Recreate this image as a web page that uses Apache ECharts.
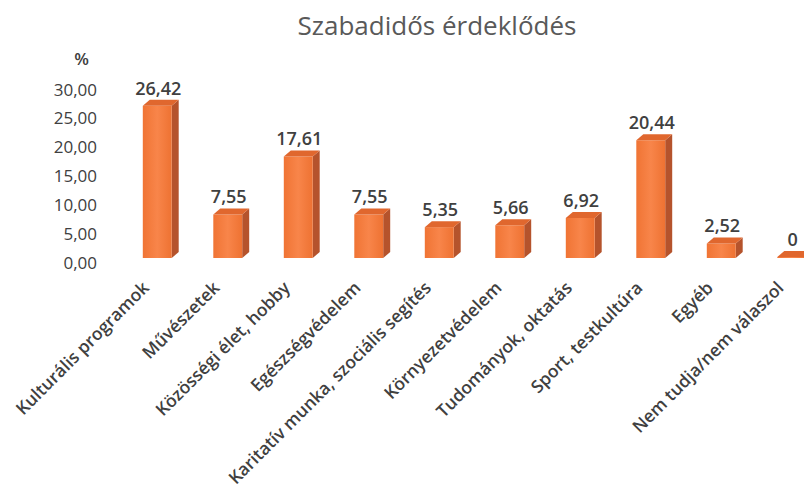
<!DOCTYPE html>
<html>
<head>
<meta charset="utf-8">
<script src="https://cdn.jsdelivr.net/npm/echarts@6/dist/echarts.min.js"></script>
<style>
  html, body { margin: 0; padding: 0; background: #fff; }
  #main { width: 804px; height: 491px; }
</style>
</head>
<body>
<div id="main"></div>
<script>
var categories = [
    'Kulturális programok',
    'Művészetek',
    'Közösségi élet, hobby',
    'Egészségvédelem',
    'Karitatív munka, szociális segítés',
    'Környezetvédelem',
    'Tudományok, oktatás',
    'Sport, testkultúra',
    'Egyéb',
    'Nem tudja/nem válaszol'
];
var values = [26.42, 7.55, 17.61, 7.55, 5.35, 5.66, 6.92, 20.44, 2.52, 0];
var valueLabels = ['26,42', '7,55', '17,61', '7,55', '5,35', '5,66', '6,92', '20,44', '2,52', '0'];
var yTicks = [0, 5, 10, 15, 20, 25, 30];

var FONT = '"Open Sans", sans-serif';
var TXT = '#404040';

var myChart = echarts.init(document.getElementById('main'), null, { renderer: 'svg' });

// fake 3d bar: front + side + top
function renderBar(params, api) {
    var i = api.value(0);
    var v = api.value(1);
    var top = api.coord([i, v]);
    var base = api.coord([i, 0]);
    var w = api.size([1, 0])[0] * 0.41;
    var dx = 7, dy = 6, lift = 4;
    var x0 = top[0] - w / 2, x1 = top[0] + w / 2;
    var yT = top[1] - lift, yB = base[1] - lift;
    if (yB - yT < 1) yT = yB - 1;
    return {
        type: 'group',
        children: [
            {
                type: 'polygon',
                shape: { points: [[x1, yT], [x1 + dx, yT - dy], [x1 + dx, yB - dy], [x1, yB]] },
                style: { fill: '#B5532C' }
            },
            {
                type: 'rect',
                shape: { x: x0, y: yT, width: w, height: yB - yT },
                style: {
                    fill: new echarts.graphic.LinearGradient(0, 0, 1, 0, [
                        { offset: 0, color: '#F07434' },
                        { offset: 0.5, color: '#F8854A' },
                        { offset: 1, color: '#EE7232' }
                    ])
                }
            },
            {
                type: 'polygon',
                shape: { points: [[x0, yT], [x0 + dx, yT - dy], [x1 + dx, yT - dy], [x1, yT]] },
                style: { fill: '#E0672E' }
            },
            {
                type: 'text',
                style: {
                    x: top[0] + 1, y: yT - dy - 3,
                    text: valueLabels[params.dataIndex],
                    fill: TXT,
                    font: '600 18px ' + FONT,
                    align: 'center',
                    verticalAlign: 'bottom'
                }
            }
        ]
    };
}

var option = {
    backgroundColor: '#fff',
    title: {
        text: 'Szabadidős érdeklődés',
        left: 432,
        textAlign: 'center',
        top: 7,
        textStyle: { fontFamily: FONT, fontSize: 26, fontWeight: 'normal', color: '#595959' }
    },
    grid: { left: 122, right: -23, top: 89, bottom: 229, containLabel: false, outerBoundsMode: 'none' },
    xAxis: {
        type: 'category',
        data: categories,
        axisLine: { show: false },
        axisTick: { show: false },
        axisLabel: {
            interval: 0,
            rotate: 45,
            margin: 10,
            padding: [0, 17, 0, 0],
            color: TXT,
            fontFamily: FONT,
            fontSize: 17.5,
            fontWeight: 600
        }
    },
    yAxis: {
        type: 'value',
        min: yTicks[0],
        max: yTicks[yTicks.length - 1],
        interval: 5,
        name: '%',
        nameGap: 22,
        nameTextStyle: { color: TXT, fontFamily: FONT, fontSize: 17, fontWeight: 600, align: 'right', padding: [0, 33, 0, 0] },
        splitLine: { show: false },
        axisLine: { show: false },
        axisTick: { show: false },
        axisLabel: {
            margin: 25,
            color: TXT,
            fontFamily: FONT,
            fontSize: 17,
            formatter: function (v) { return v.toFixed(2).replace('.', ','); }
        }
    },
    series: [{
        type: 'custom',
        renderItem: renderBar,
        clip: false,
        encode: { x: 0, y: 1 },
        data: values.map(function (v, i) { return [i, v]; })
    }]
};

myChart.setOption(option);
</script>
</body>
</html>
